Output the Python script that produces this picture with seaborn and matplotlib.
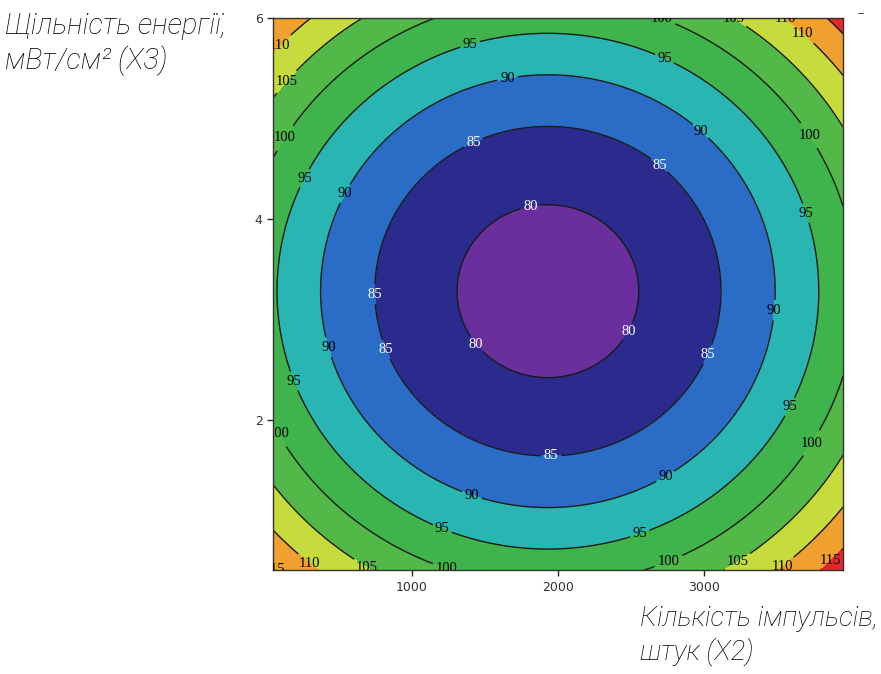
import numpy as np
import matplotlib
matplotlib.use('Agg')
import matplotlib.pyplot as plt
import seaborn as sns

sns.set_style('white')

# --- dados (superfície de resposta quadrática) ---
x2_lim = [50, 3950]          # кількість імпульсів
x3_lim = [0.5, 6.0]          # щільність енергії
x2_center = 1930
x3_center = 3.28
z_min = 78.1
curv_x2 = 4.92e-6
curv_x3 = 2.56

levels = [75, 80, 85, 90, 95, 100, 105, 110, 115, 125]
line_levels = [80, 85, 90, 95, 100, 105, 110, 115]
band_colors = ['#6a2f9c', '#2b2b8e', '#2b6cc6', '#29b6b3', '#3fb44c',
               '#52b848', '#c6dc3c', '#f0a02e', '#e3262a']
x_ticks = [1000, 2000, 3000]
y_ticks = [2, 4, 6]

label_pos = [(1397, 5.75), (1651, 5.42), (1411, 4.79), (1801, 4.19), (2685, 4.52),
             (2966, 4.86), (2719, 5.57), (2620, 5.96), (3116, 5.96), (3527, 5.96),
             (3740, 5.96), (96, 5.73), (130, 5.38), (116, 4.82), (247, 4.42),
             (521, 4.27), (726, 3.25), (808, 2.69), (1404, 2.71), (2370, 2.97),
             (3041, 2.64), (3486, 3.09), (3596, 4.01), (3705, 4.82), (425, 2.72),
             (205, 2.39), (110, 1.88), (1952, 1.6), (1411, 1.25), (1212, 0.93),
             (1247, 0.55), (712, 0.58), (336, 0.63), (70, 0.52), (2747, 1.4),
             (2562, 0.85), (3555, 2.15), (3657, 1.84), (2767, 0.55), (3212, 0.62),
             (3541, 0.52), (3883, 0.57)]

# --- superfície ---
gx = np.linspace(x2_lim[0], x2_lim[1], 300)
gy = np.linspace(x3_lim[0], x3_lim[1], 300)
X, Y = np.meshgrid(gx, gy)
Z = z_min + curv_x2 * (X - x2_center) ** 2 + curv_x3 * (Y - x3_center) ** 2

fig = plt.figure(figsize=(8.81, 6.74), dpi=100)
ax = fig.add_axes([0.310, 0.154, 0.647, 0.819])

ax.contourf(X, Y, Z, levels=levels, colors=band_colors)
cs = ax.contour(X, Y, Z, levels=line_levels, colors='#1a1a1a', linewidths=1.0)
lbl_colors = ['white' if lv <= 85 else 'black' for lv in line_levels]
textos = ax.clabel(cs, fmt='%d', manual=label_pos, inline=True, inline_spacing=1,
                   fontsize=10.5, colors=lbl_colors)
for t in textos:
    t.set_fontfamily('Liberation Serif')
    t.set_rotation(0)

ax.set_xlim(x2_lim)
ax.set_ylim(x3_lim)
ax.set_xticks(x_ticks)
ax.set_yticks(y_ticks)
ax.tick_params(direction='out', length=4, width=1, labelsize=9,
               labelcolor='#333333', left=True, bottom=True)
for s in ax.spines.values():
    s.set_color('#333333')
    s.set_linewidth(1)

fam = ['Liberation Sans Narrow', 'Roboto', 'DejaVu Sans']
fig.text(0.006, 0.982, 'Щільність енергії,\nмВт/см² (X3)', va='top', ha='left',
         fontsize=21, style='italic', weight='light', family=fam,
         color='black', linespacing=1.25)
fig.text(0.727, 0.102, 'Кількість імпульсів,\nштук (X2)', va='top', ha='left',
         fontsize=20, style='italic', weight='light', family=fam,
         color='black', linespacing=1.25)
fig.text(0.977, 0.99, '–', va='top', ha='center', fontsize=9, color='#333333')

plt.savefig('out.png', dpi=100)
